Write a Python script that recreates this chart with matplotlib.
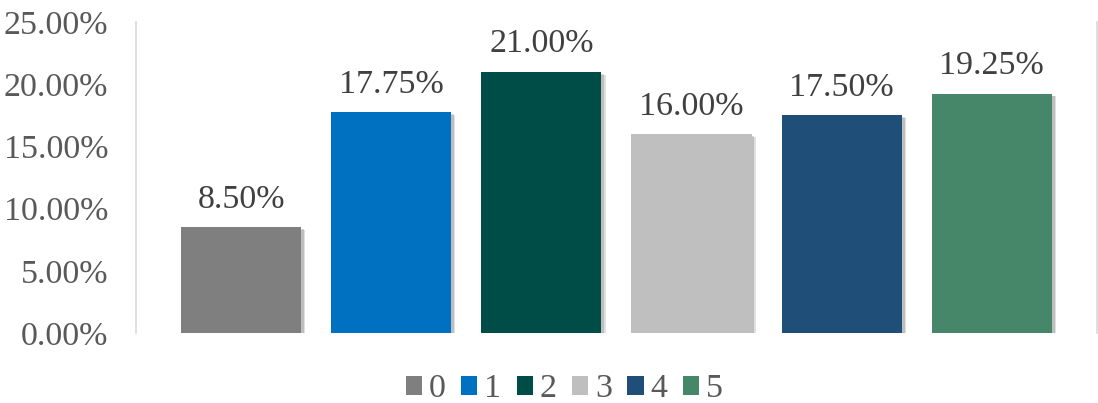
import matplotlib
matplotlib.use("Agg")
import matplotlib.pyplot as plt
import matplotlib.patheffects as pe
from matplotlib.patches import Patch

categories = ["0", "1", "2", "3", "4", "5"]
shares = [8.50, 17.75, 21.00, 16.00, 17.50, 19.25]
colors = ["#7f7f7f", "#0070c0", "#004d47", "#bfbfbf", "#1f4e79", "#458768"]
yticks = [0, 5, 10, 15, 20, 25]

plt.rcParams["font.family"] = ["Liberation Serif", "DejaVu Serif"]

fig = plt.figure(figsize=(10.98, 4.03), dpi=100)
ax = fig.add_axes([0.1239, 0.1737, 0.8751, 0.7717])

x = range(len(categories))
bars = ax.bar(x, shares, width=0.8, color=colors, zorder=2)
# soft drop shadow to the lower right of each bar
for b in bars:
    b.set_path_effects([pe.SimplePatchShadow(offset=(3, -2), shadow_rgbFace="#000000", alpha=0.12),
                        pe.SimplePatchShadow(offset=(2, -1.5), shadow_rgbFace="#000000", alpha=0.15),
                        pe.Normal()])

for xi, v in zip(x, shares):
    ax.text(xi, v + 1.0, f"{v:.2f}%", ha="center", va="bottom", fontsize=24.5, color="#404040")

ax.set_xlim(-0.7, 5.7)
ax.set_ylim(0, 25)
ax.set_yticks(yticks)
ax.set_yticklabels([f"{t:.2f}%" for t in yticks], fontsize=24.5, color="#595959")
ax.set_xticks([])
ax.tick_params(axis="y", length=0, pad=20)

for side in ["top", "bottom"]:
    ax.spines[side].set_visible(False)
for side in ["left", "right"]:
    ax.spines[side].set_color("#d9d9d9")
    ax.spines[side].set_linewidth(1.2)

handles = [Patch(facecolor=c, label=l) for c, l in zip(colors, categories)]
fig.legend(handles=handles, loc="center", bbox_to_anchor=(0.514, 0.035), ncol=6, frameon=False,
           fontsize=24.5, labelcolor="#595959", handlelength=0.48, handleheight=0.48,
           handletextpad=0.2, columnspacing=0.45, borderpad=0)

fig.savefig("out.png", dpi=100)
